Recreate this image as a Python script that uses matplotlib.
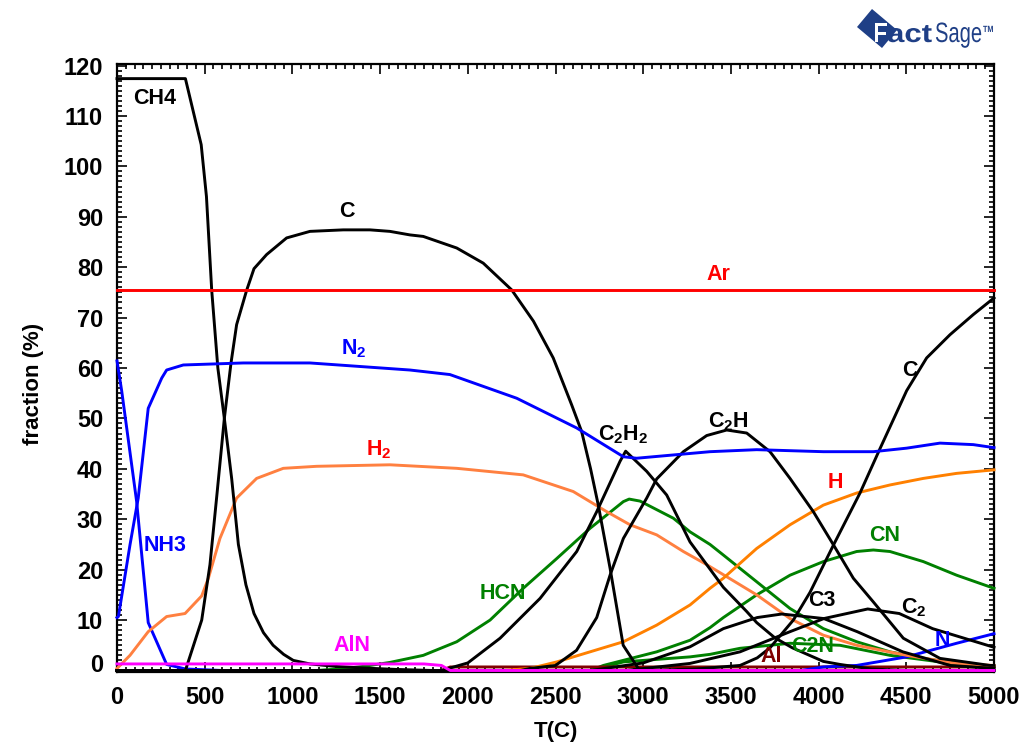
import matplotlib
matplotlib.use("Agg")
import matplotlib.pyplot as plt
from matplotlib.patches import Polygon, PathPatch
from matplotlib.ticker import MultipleLocator
from matplotlib.textpath import TextPath
from matplotlib.font_manager import FontProperties
import matplotlib.transforms as mtransforms

plt.rcParams['font.family'] = ['Liberation Sans', 'DejaVu Sans']
plt.rcParams['mathtext.fontset'] = 'custom'
plt.rcParams['mathtext.rm'] = 'Liberation Sans'
plt.rcParams['mathtext.bf'] = 'Liberation Sans:bold'

# ---- equilibrium fractions (%) vs temperature (C) ----
ar_t = [0, 5000]
ar_y = [75.4, 75.4]

ch4_t = [0, 390, 480, 510, 540, 575, 612, 654, 692, 735, 781, 835, 890, 950, 1005, 1100, 1250, 1400, 1600, 1800, 5000]
ch4_y = [117.4, 117.4, 104.3, 94, 75.4, 60, 50, 38, 25, 17, 11.3, 7.5, 5, 3.2, 2, 1.3, 0.8, 0.5, 0.2, 0, 0]

c_s_t = [0, 390, 483, 530, 570, 612, 650, 682, 739, 781, 853, 967, 1100, 1290, 1442, 1556, 1670, 1746, 1937,
         2088, 2250, 2374, 2487, 2592, 2649, 2700, 2744, 2811, 2886, 2972, 3000, 5000]
c_s_y = [0, 0, 10, 21, 35, 50, 61, 68.6, 75.4, 79.7, 82.5, 85.8, 87.1, 87.4, 87.4, 87.1, 86.4, 86.1, 83.8,
         80.8, 75.5, 69.3, 62, 52.7, 47.4, 40, 32.8, 20.3, 5, 0.4, 0, 0]

c_g_t = [0, 3000, 3300, 3552, 3650, 3723, 3856, 3951, 4085, 4236, 4350, 4502, 4616, 4749, 4882, 5000]
c_g_y = [0, 0, 0.3, 1, 2.5, 4.5, 10, 15.5, 24.9, 35.2, 44, 55.5, 62, 66.6, 70.6, 73.9]

n2_t = [0, 8, 74, 121, 178, 255, 283, 378, 720, 1100, 1385, 1670, 1898, 2279, 2621, 2887, 2962, 3381,
        3647, 4027, 4312, 4502, 4692, 4882, 5000]
n2_y = [10.5, 10.7, 24.9, 34.2, 52, 58, 59.6, 60.6, 61, 61, 60.3, 59.6, 58.7, 54, 48.1, 42.4, 42.1, 43.4,
        43.8, 43.4, 43.4, 44.1, 45.1, 44.8, 44.2]

nh3_t = [0, 27, 112, 178, 283, 390, 600, 5000]
nh3_y = [61.4, 55.4, 33.5, 9.5, 1.2, 0.3, 0, 0]

h2_t = [0, 74, 178, 283, 388, 483, 521, 587, 682, 796, 948, 1138, 1556, 1937, 2316, 2601, 2792, 2925,
        3077, 3229, 3362, 3457, 3647, 3837, 4027, 4217, 4502, 4787, 5000]
h2_y = [0.4, 3, 7.7, 10.7, 11.3, 14.8, 18.3, 26.2, 34.2, 38.1, 40.1, 40.5, 40.8, 40.1, 38.8, 35.5, 31.5, 28.9,
        26.9, 23.6, 21, 19, 15, 10.3, 7, 5, 3, 1.4, 1]

h_t = [0, 2200, 2355, 2507, 2697, 2887, 3077, 3267, 3381, 3457, 3647, 3837, 4027, 4217, 4407, 4597, 4787, 5000]
h_y = [0, 0, 0.4, 1.7, 3.7, 5.7, 9, 13, 16.3, 18.3, 24.2, 28.9, 32.8, 35.2, 36.8, 38.1, 39.1, 39.8]

hcn_t = [0, 1138, 1300, 1424, 1556, 1746, 1937, 2127, 2316, 2507, 2697, 2887, 2920, 2982, 3172, 3267, 3381,
         3457, 3647, 3837, 4027, 4217, 4407, 4597, 4787, 5000]
hcn_y = [0, 0, 0.4, 0.9, 1.6, 3, 5.7, 10, 16.3, 22.2, 28.2, 33.5, 34, 33.6, 30.2, 27.5, 25, 22.9,
         17.6, 12.3, 8.3, 5.7, 3.7, 2.4, 1.4, 0.7]

c2h2_t = [0, 1850, 2000, 2184, 2412, 2621, 2735, 2868, 2900, 2960, 3020, 3134, 3267, 3362, 3457, 3590,
          3647, 3750, 3850, 4027, 4122, 4300, 4500, 5000]
c2h2_y = [0, 0, 1.5, 6.4, 14.3, 23.6, 31.5, 41.5, 43.5, 41.5, 39.5, 34.8, 25.5, 21, 16.5, 11.7,
          9.5, 6.5, 4.5, 1.8, 1.2, 0.3, 0, 0]

c2h_t = [0, 2300, 2353, 2500, 2620, 2735, 2811, 2887, 3020, 3077, 3229, 3362, 3476, 3590, 3723, 3837,
         3970, 4085, 4198, 4312, 4483, 4692, 4977, 5000]
c2h_y = [0, 0, 0.4, 1, 4, 10.5, 18.9, 26.2, 34.2, 38, 43.4, 46.6, 47.7, 47.1, 43.4, 38.1,
         31.5, 24.9, 18.3, 13.6, 6.4, 2.4, 1, 1]

cn_t = [0, 2700, 2773, 3077, 3267, 3381, 3457, 3647, 3837, 4027, 4217, 4312, 4407, 4597, 4787, 5000]
cn_y = [0, 0, 1, 3.7, 6, 8.5, 10.5, 15, 18.9, 21.6, 23.6, 23.9, 23.6, 21.6, 18.9, 16.3]

c2n_t = [0, 2700, 2887, 3267, 3381, 3552, 3837, 4122, 4407, 4692, 5000]
c2n_y = [0, 0, 1.7, 2.7, 3.2, 4.4, 5.4, 5, 3, 1.7, 0.8]

c3_t = [0, 2700, 3000, 3267, 3457, 3650, 3790, 4030, 4220, 4480, 4750, 5000]
c3_y = [0, 0, 1.5, 4.7, 8.3, 10.5, 11.2, 10.3, 7.7, 3.7, 1, 0.4]

c2_t = [0, 2900, 3267, 3552, 3837, 4030, 4280, 4460, 4650, 5000]
c2_y = [0, 0, 1.4, 3.7, 7.7, 10.3, 12.2, 11.3, 8.3, 4.6]

n_t = [0, 3900, 4027, 4217, 4502, 4787, 5000]
n_y = [0, 0, 0.7, 1, 2.7, 5.4, 7.3]

al_t = [0, 1850, 1900, 5000]
al_y = [0, 0, 0.7, 0.7]

aln_t = [0, 1750, 1850, 1900, 5000]
aln_y = [1.3, 1.3, 1.0, 0, 0]

BLACK = '#000000'
BLUE = '#0000FF'
RED = '#FF0000'
CORAL = '#FF8040'
ORANGE = '#FF8000'
GREEN = '#008000'
MAGENTA = '#FF00FF'
DARKRED = '#800000'
NAVY = '#1F3F86'

series = [
    (hcn_t, hcn_y, GREEN),
    (cn_t, cn_y, GREEN),
    (c2n_t, c2n_y, GREEN),
    (al_t, al_y, DARKRED),
    (n_t, n_y, BLUE),
    (nh3_t, nh3_y, BLUE),
    (h2_t, h2_y, CORAL),
    (h_t, h_y, ORANGE),
    (ch4_t, ch4_y, BLACK),
    (c_s_t, c_s_y, BLACK),
    (c_g_t, c_g_y, BLACK),
    (c2h2_t, c2h2_y, BLACK),
    (c2h_t, c2h_y, BLACK),
    (c3_t, c3_y, BLACK),
    (c2_t, c2_y, BLACK),
    (n2_t, n2_y, BLUE),
    (aln_t, aln_y, MAGENTA),
    (ar_t, ar_y, RED),
]

labels = [
    ('CH4', 217, 113.5, BLACK),
    ('C', 1311, 91.0, BLACK),
    ('Ar', 3426, 78.6, RED),
    (r'$\mathbf{N_2}$', 1350, 63.8, BLUE),
    (r'$\mathbf{H_2}$', 1490, 43.8, RED),
    ('NH3', 274, 24.8, BLUE),
    ('AlN', 1340, 5.0, MAGENTA),
    ('HCN', 2201, 15.3, GREEN),
    (r'$\mathbf{C_2H_2}$', 2885, 46.8, BLACK),
    (r'$\mathbf{C_2H}$', 3485, 49.4, BLACK),
    ('H', 4093, 37.3, RED),
    ('C', 4521, 59.6, BLACK),
    ('CN', 4378, 26.8, GREEN),
    ('C3', 4019, 13.9, BLACK),
    (r'$\mathbf{C_2}$', 4540, 12.4, BLACK),
    ('N', 4703, 6.0, BLUE),
    ('Al', 3728, 2.8, DARKRED),
    ('C2N', 3968, 4.8, GREEN),
]

W, H = 1024, 748
fig = plt.figure(figsize=(W / 100, H / 100), dpi=100)
ax = fig.add_axes([117 / W, 76 / H, 877 / W, 608 / H])

for t, y, col in series:
    ax.plot(t, y, color=col, lw=2.1, clip_on=False, zorder=3, solid_joinstyle='round')

for txt, x, y, col in labels:
    ax.text(x, y, txt, color=col, fontsize=15.5, fontweight='bold', ha='center', va='center', zorder=5)

ax.set_xlim(0, 5000)
ax.set_ylim(-0.3, 120.3)
ax.xaxis.set_major_locator(MultipleLocator(500))
ax.xaxis.set_minor_locator(MultipleLocator(50))
ax.yaxis.set_major_locator(MultipleLocator(10))
ax.yaxis.set_minor_locator(MultipleLocator(1))
ax.tick_params(which='both', direction='in', top=True, right=True, width=1.2, colors='black')
ax.tick_params(which='major', length=7.5, labelsize=17, pad=10)
ax.tick_params(which='minor', length=3.5)
for lab in ax.get_xticklabels() + ax.get_yticklabels():
    lab.set_fontweight('bold')
for sp in ax.spines.values():
    sp.set_linewidth(1.6)

# lift the "0" label on the y axis slightly
fig.canvas.draw()
for lab in ax.get_yticklabels():
    if lab.get_text() == '0':
        lab.set_transform(lab.get_transform() +
                          mtransforms.ScaledTranslation(0, 7 / 100, fig.dpi_scale_trans))

ax.set_xlabel('T(C)', fontsize=16, fontweight='bold', labelpad=9)
ax.set_ylabel('fraction (%)', fontsize=16, fontweight='bold')
ax.yaxis.set_label_coords(-0.083, 0.474)

# FactSage logo, drawn in pixel coordinates (origin top-left)
def to_disp(x, y):
    return (x, H - y)

diamond = Polygon([to_disp(857, 27), to_disp(872, 9), to_disp(897, 30), to_disp(882, 48)],
                  closed=True, facecolor=NAVY, edgecolor='none',
                  transform=mtransforms.IdentityTransform())
fig.patches.append(diamond)


def logo_word(s, x, y, size, color, weight, sx):
    path = TextPath((0, 0), s, size=size, prop=FontProperties(family='Liberation Sans', weight=weight))
    tr = mtransforms.Affine2D().scale(sx, 1).translate(x, H - y)
    fig.patches.append(PathPatch(path, transform=tr, facecolor=color, edgecolor='none'))


logo_word('F', 873, 42, 28, 'white', 'bold', 0.85)
logo_word('act', 887, 42, 26, NAVY, 'bold', 1.2)
logo_word('Sage', 935, 42, 28, NAVY, 'normal', 0.72)
logo_word('TM', 983, 32, 9, NAVY, 'bold', 0.8)

fig.savefig('out.png', dpi=100)
